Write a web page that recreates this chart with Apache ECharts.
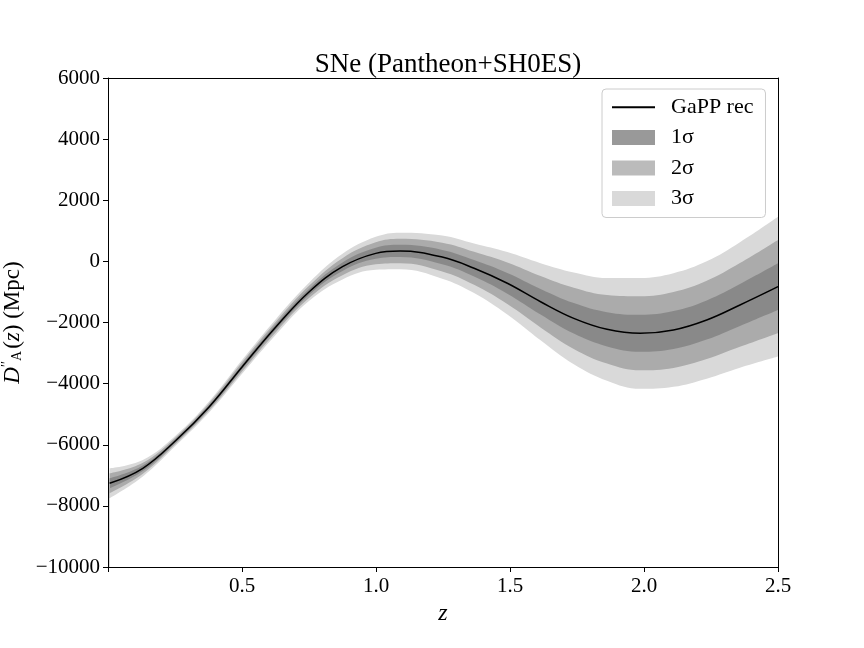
<!DOCTYPE html>
<html>
<head>
<meta charset="utf-8">
<script src="https://cdn.jsdelivr.net/npm/echarts@6/dist/echarts.min.js"></script>
<style>html,body{margin:0;padding:0;background:#fff}#c{width:864px;height:648px}</style>
</head>
<body>
<div id="c"></div>
<script>
// Redshift samples
const zVals  = [0.006, 0.13, 0.255, 0.378, 0.501, 0.627, 0.751, 0.875, 0.999, 1.09, 1.247, 1.366, 1.49, 1.614, 1.738, 1.862, 1.986, 2.11, 2.234, 2.358, 2.5];
// GaPP reconstructed mean D''_A(z) (Mpc)
const meanVals = [-7262, -6770, -5845, -4755, -3446, -2137, -992, -174, 262, 340, 140, -226, -717, -1320, -1864, -2224, -2355, -2245, -1918, -1427, -827];
// 1-sigma uncertainty (Mpc)
const sigmaVals = [163, 90, 55, 60, 75, 85, 100, 140, 180, 200, 235, 270, 340, 420, 500, 560, 605, 620, 640, 685, 763];
const yTicks = [-10000, -8000, -6000, -4000, -2000, 0, 2000, 4000, 6000];
const xTickLabels = ['0.5', '1.0', '1.5', '2.0', '2.5'];

const FONT = 'Liberation Serif';
const bandColors = {0: '#ffffff', 3: '#d9d9d9', 2: '#ababab', 1: '#898989'};
const legendColors = {3: '#d9d9d9', 2: '#bbbbbb', 1: '#999999'};

// Bands are painted as layered areas filled down to the axis start:
// upper edges (outer to inner) then lower edges (inner to outer).
const layers = [
  {k: 3, sign: 1, fill: 3, name: '3σ'},
  {k: 2, sign: 1, fill: 2, name: '2σ'},
  {k: 1, sign: 1, fill: 1, name: '1σ'},
  {k: 1, sign: -1, fill: 2, name: 'lo1'},
  {k: 2, sign: -1, fill: 3, name: 'lo2'},
  {k: 3, sign: -1, fill: 0, name: 'lo3'}
];
const series = layers.map((L, j) => ({
  type: 'line', name: L.name,
  data: zVals.map((x, i) => [x, meanVals[i] + L.sign * L.k * sigmaVals[i]]),
  symbol: 'none', smooth: 0.4, silent: true,
  lineStyle: {width: 0, opacity: 0},
  itemStyle: {color: bandColors[L.fill]},
  areaStyle: {color: bandColors[L.fill], opacity: 1, origin: 'start'},
  z: 2
}));
series.push({
  type: 'line', name: 'GaPP rec',
  data: zVals.map((x, i) => [x, meanVals[i]]),
  symbol: 'none', smooth: 0.4, silent: true,
  lineStyle: {color: '#000', width: 1.5},
  itemStyle: {color: '#000'}, z: 5
});

const hiddenAxis = {
  show: true, axisLabel: {show: false}, axisTick: {show: false}, splitLine: {show: false},
  axisLine: {show: true, onZero: false, lineStyle: {color: '#000', width: 1}}, z: 10
};

const chart = echarts.init(document.getElementById('c'), null, {renderer: 'canvas'});
chart.setOption({
  backgroundColor: '#fff',
  animation: false,
  title: {
    text: 'SNe (Pantheon+SH0ES)', left: 443, top: 46, textAlign: 'center',
    textStyle: {fontFamily: FONT, fontSize: 27, fontWeight: 'normal', color: '#000'}
  },
  legend: {
    orient: 'vertical', left: 602, top: 89,
    backgroundColor: '#fff', borderColor: '#cccccc', borderWidth: 1, borderRadius: 4,
    padding: [7, 12, 8, 10],
    itemWidth: 43, itemHeight: 15, itemGap: 8.5, selectedMode: false, z: 20,
    textStyle: {fontFamily: FONT, fontSize: 22, color: '#000', lineHeight: 22, padding: [0, 0, 0, 11]},
    data: [
      {name: 'GaPP rec', icon: 'path://M0,0 L0.01,0 L0.01,0.01 Z M0,6.8 L43,6.8 L43,8.8 L0,8.8 Z M0,15 L0.01,15 L0.01,14.99 Z', itemStyle: {color: '#000'}},
      {name: '1σ', icon: 'rect', itemStyle: {color: legendColors[1]}},
      {name: '2σ', icon: 'rect', itemStyle: {color: legendColors[2]}},
      {name: '3σ', icon: 'rect', itemStyle: {color: legendColors[3]}}
    ]
  },
  grid: {left: 108, right: 86, top: 78, bottom: 81, containLabel: false, outerBoundsMode: 'none', show: false},
  xAxis: [{
    type: 'value', min: 0, max: 2.5, interval: 0.5, z: 10,
    name: '{i|z}', nameLocation: 'middle', nameGap: 31,
    nameTextStyle: {rich: {i: {fontFamily: FONT, fontStyle: 'italic', fontSize: 24, color: '#000'}}},
    axisLine: {show: true, onZero: false, lineStyle: {color: '#000', width: 1}},
    axisTick: {show: true, inside: false, length: 5, lineStyle: {color: '#000'}},
    splitLine: {show: false},
    axisLabel: {
      fontFamily: FONT, fontSize: 21, color: '#000', margin: 9,
      formatter: v => {
        const idx = xTickLabels.indexOf(v.toFixed(1));
        return idx >= 0 ? xTickLabels[idx] : '';
      }
    }
  }, Object.assign({type: 'value', position: 'top', min: 0, max: 2.5}, hiddenAxis)],
  yAxis: [{
    type: 'value', min: yTicks[0], max: yTicks[yTicks.length - 1], interval: 2000, z: 10,
    name: '{i|D}{p|′′}{s|A}{n|(}{i|z}{n|) (Mpc)}', nameLocation: 'middle', nameGap: 82,
    nameTextStyle: {
      rich: {
        i: {fontFamily: FONT, fontStyle: 'italic', fontSize: 23, color: '#000'},
        n: {fontFamily: FONT, fontSize: 23, color: '#000'},
        p: {fontFamily: FONT, fontSize: 14, color: '#000', verticalAlign: 'top', padding: [0, 0, 10, 0]},
        s: {fontFamily: FONT, fontSize: 14, color: '#000', verticalAlign: 'bottom', padding: [8, 2, 0, 0]}
      }
    },
    axisLine: {show: true, onZero: false, lineStyle: {color: '#000', width: 1}},
    axisTick: {show: true, inside: false, length: 5, lineStyle: {color: '#000'}},
    splitLine: {show: false},
    axisLabel: {
      fontFamily: FONT, fontSize: 21, color: '#000', margin: 8,
      formatter: v => (v < 0 ? '\u2212' + Math.abs(v) : String(v))
    }
  }, Object.assign({type: 'value', position: 'right', min: yTicks[0], max: yTicks[yTicks.length - 1]}, hiddenAxis)],
  series: series
});
</script>
</body>
</html>
